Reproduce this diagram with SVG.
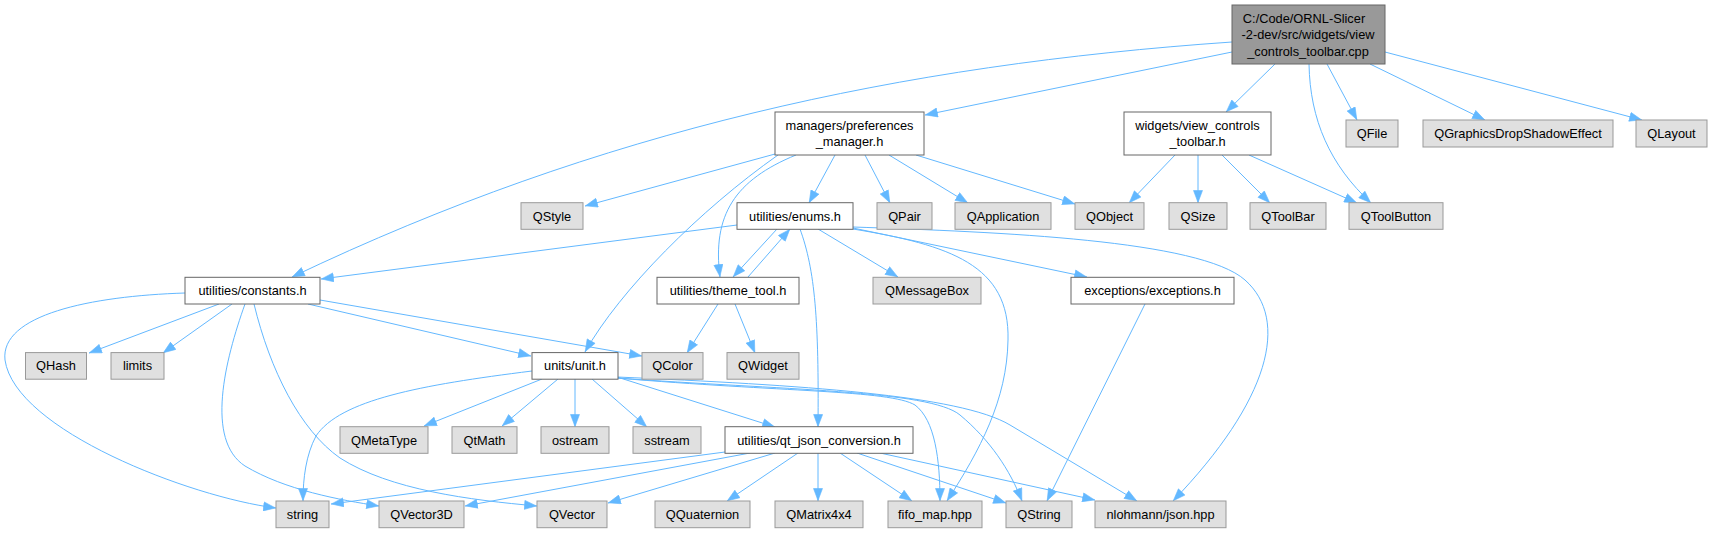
<svg xmlns="http://www.w3.org/2000/svg" width="1712" height="533" viewBox="0 0 1712 533">
<style>
text{font-family:"Liberation Sans",Arial,sans-serif;font-size:12.8px;text-anchor:middle;fill:#000}
.m{fill:#999999;stroke:#666666;stroke-width:1}
.i{fill:#ffffff;stroke:#666666;stroke-width:1}
.x{fill:#e0e0e0;stroke:#999999;stroke-width:1}
#edges path{fill:none;stroke:#63b8ff;stroke-width:1;marker-end:url(#a)}
</style>
<defs>
<marker id="a" markerUnits="userSpaceOnUse" markerWidth="13" markerHeight="10" viewBox="0 0 13 10" refX="13" refY="5" orient="auto"><path d="M0.5,0.5L12.5,5L0.5,9.5z" fill="#63b8ff" stroke="#63b8ff" stroke-width="0.6"/></marker>
</defs>
<rect width="1712" height="533" fill="#ffffff"/>
<g id="edges">
<path d="M1232,42 C900,65 600,130 292,277"/>
<path d="M1232,52 L925,115"/>
<path d="M1275,64 L1226,112"/>
<path d="M1309,64 C1310,120 1330,165 1371,203"/>
<path d="M1327,64 L1357,120"/>
<path d="M1370,64 L1485,120"/>
<path d="M1385,52 L1642,120"/>
<path d="M775,154 L585,206"/>
<path d="M796,155 C735,180 712,215 720,277"/>
<path d="M778,155 C700,210 620,290 585,352"/>
<path d="M835,155 L809,203"/>
<path d="M865,155 L890,203"/>
<path d="M889,155 L968,203"/>
<path d="M916,155 L1075,204"/>
<path d="M1175,155 L1129,203"/>
<path d="M1198,155 L1198,203"/>
<path d="M1222,155 L1270,203"/>
<path d="M1249,155 L1357,203"/>
<path d="M737,225 L321,279"/>
<path d="M777,229 L733,277"/>
<path d="M748,277 L790,229"/>
<path d="M818,229 L898,277"/>
<path d="M853,228 L1087,277"/>
<path d="M800,229 C815,270 819,320 818,427"/>
<path d="M853,229 C950,245 1010,265 1008,340 C1007,400 980,450 947,501"/>
<path d="M853,227 C1000,232 1200,240 1245,280 C1290,320 1270,400 1173,501"/>
<path d="M718,304 L687,353"/>
<path d="M735,304 L755,353"/>
<path d="M1145,304 L1047,501"/>
<path d="M185,293 C90,296 0,315 5,360 C15,430 190,497 276,508"/>
<path d="M219,304 L89,353"/>
<path d="M232,304 L163,353"/>
<path d="M245,304 C225,360 205,440 245,466 C285,490 340,500 379,506"/>
<path d="M254,304 C270,370 300,430 340,458 C390,490 470,500 537,506"/>
<path d="M308,304 L531,356"/>
<path d="M320,300 L642,356"/>
<path d="M532,371 C420,385 340,400 316,436 C306,455 303,478 303,501"/>
<path d="M542,379 L424,426"/>
<path d="M558,379 L502,426"/>
<path d="M575,379 L575,427"/>
<path d="M592,379 L647,427"/>
<path d="M617,377 L775,427"/>
<path d="M617,378 C780,392 890,390 915,405 C935,420 940,460 940,501"/>
<path d="M617,378 C780,390 930,390 960,415 C990,440 1010,470 1022,501"/>
<path d="M617,377 C800,385 960,395 1010,425 L1137,501"/>
<path d="M725,452 L331,504"/>
<path d="M750,453 L465,506"/>
<path d="M775,453 L608,503"/>
<path d="M798,453 L727,501"/>
<path d="M818,453 L818,501"/>
<path d="M840,453 L912,501"/>
<path d="M857,453 L1006,503"/>
<path d="M880,453 L1095,500"/>
</g>
<g id="n_main"><rect class="m" x="1232" y="5" width="153" height="59"/><text x="1304" y="22.5">C:/Code/ORNL-Slicer</text><text x="1308" y="39">-2-dev/src/widgets/view</text><text x="1308" y="55.5">_controls_toolbar.cpp</text></g>
<g id="n_pref"><rect class="i" x="775" y="112" width="149" height="43"/><text x="849.5" y="129.8">managers/preferences</text><text x="849.5" y="146.3">_manager.h</text></g>
<g id="n_widgets"><rect class="i" x="1124" y="112" width="147" height="43"/><text x="1197.5" y="129.8">widgets/view_controls</text><text x="1197.5" y="146.3">_toolbar.h</text></g>
<g id="n_qfile"><rect class="x" x="1346" y="120" width="52" height="27"/><text x="1372" y="138">QFile</text></g>
<g id="n_qgdse"><rect class="x" x="1423" y="120" width="190" height="27"/><text x="1518" y="138">QGraphicsDropShadowEffect</text></g>
<g id="n_qlayout"><rect class="x" x="1636" y="120" width="71" height="27"/><text x="1671.5" y="138">QLayout</text></g>
<g id="n_qstyle"><rect class="x" x="521" y="202.7" width="62" height="26.6"/><text x="552" y="220.5">QStyle</text></g>
<g id="n_enums"><rect class="i" x="737" y="202.7" width="116" height="26.6"/><text x="795" y="220.5">utilities/enums.h</text></g>
<g id="n_qpair"><rect class="x" x="877" y="202.7" width="55" height="26.6"/><text x="904.5" y="220.5">QPair</text></g>
<g id="n_qapp"><rect class="x" x="955" y="202.7" width="96" height="26.6"/><text x="1003" y="220.5">QApplication</text></g>
<g id="n_qobject"><rect class="x" x="1075" y="202.7" width="69" height="26.6"/><text x="1109.5" y="220.5">QObject</text></g>
<g id="n_qsize"><rect class="x" x="1169" y="202.7" width="58" height="26.6"/><text x="1198" y="220.5">QSize</text></g>
<g id="n_qtoolbar"><rect class="x" x="1250" y="202.7" width="76" height="26.6"/><text x="1288" y="220.5">QToolBar</text></g>
<g id="n_qtoolbutton"><rect class="x" x="1349" y="202.7" width="94" height="26.6"/><text x="1396" y="220.5">QToolButton</text></g>
<g id="n_constants"><rect class="i" x="185" y="277.3" width="135" height="26.7"/><text x="252.5" y="295.2">utilities/constants.h</text></g>
<g id="n_theme"><rect class="i" x="657" y="277.3" width="142" height="26.7"/><text x="728" y="295.2">utilities/theme_tool.h</text></g>
<g id="n_qmsgbox"><rect class="x" x="873" y="277.3" width="108" height="26.7"/><text x="927" y="295.2">QMessageBox</text></g>
<g id="n_exceptions"><rect class="i" x="1071" y="277.3" width="163" height="26.7"/><text x="1152.5" y="295.2">exceptions/exceptions.h</text></g>
<g id="n_qhash"><rect class="x" x="25.5" y="352.6" width="61" height="26.6"/><text x="56" y="370.4">QHash</text></g>
<g id="n_limits"><rect class="x" x="111" y="352.6" width="53" height="26.6"/><text x="137.5" y="370.4">limits</text></g>
<g id="n_unit"><rect class="i" x="532" y="352.6" width="86" height="26.6"/><text x="575" y="370.4">units/unit.h</text></g>
<g id="n_qcolor"><rect class="x" x="642" y="352.6" width="61" height="26.6"/><text x="672.5" y="370.4">QColor</text></g>
<g id="n_qwidget"><rect class="x" x="727" y="352.6" width="72" height="26.6"/><text x="763" y="370.4">QWidget</text></g>
<g id="n_qmetatype"><rect class="x" x="340" y="426.7" width="88" height="26.6"/><text x="384" y="444.5">QMetaType</text></g>
<g id="n_qtmath"><rect class="x" x="452" y="426.7" width="65" height="26.6"/><text x="484.5" y="444.5">QtMath</text></g>
<g id="n_ostream"><rect class="x" x="541" y="426.7" width="68" height="26.6"/><text x="575" y="444.5">ostream</text></g>
<g id="n_sstream"><rect class="x" x="633" y="426.7" width="68" height="26.6"/><text x="667" y="444.5">sstream</text></g>
<g id="n_qtjson"><rect class="i" x="725" y="426.7" width="188" height="26.6"/><text x="819" y="444.5">utilities/qt_json_conversion.h</text></g>
<g id="n_string"><rect class="x" x="276" y="501" width="53" height="26.7"/><text x="302.5" y="518.8">string</text></g>
<g id="n_qvector3d"><rect class="x" x="379" y="501" width="85" height="26.7"/><text x="421.5" y="518.8">QVector3D</text></g>
<g id="n_qvector"><rect class="x" x="537" y="501" width="70" height="26.7"/><text x="572" y="518.8">QVector</text></g>
<g id="n_qquaternion"><rect class="x" x="655" y="501" width="95" height="26.7"/><text x="702.5" y="518.8">QQuaternion</text></g>
<g id="n_qmatrix"><rect class="x" x="775" y="501" width="88" height="26.7"/><text x="819" y="518.8">QMatrix4x4</text></g>
<g id="n_fifo"><rect class="x" x="888" y="501" width="94" height="26.7"/><text x="935" y="518.8">fifo_map.hpp</text></g>
<g id="n_qstring"><rect class="x" x="1006" y="501" width="66" height="26.7"/><text x="1039" y="518.8">QString</text></g>
<g id="n_json"><rect class="x" x="1095" y="501" width="131" height="26.7"/><text x="1160.5" y="518.8">nlohmann/json.hpp</text></g>
</svg>
